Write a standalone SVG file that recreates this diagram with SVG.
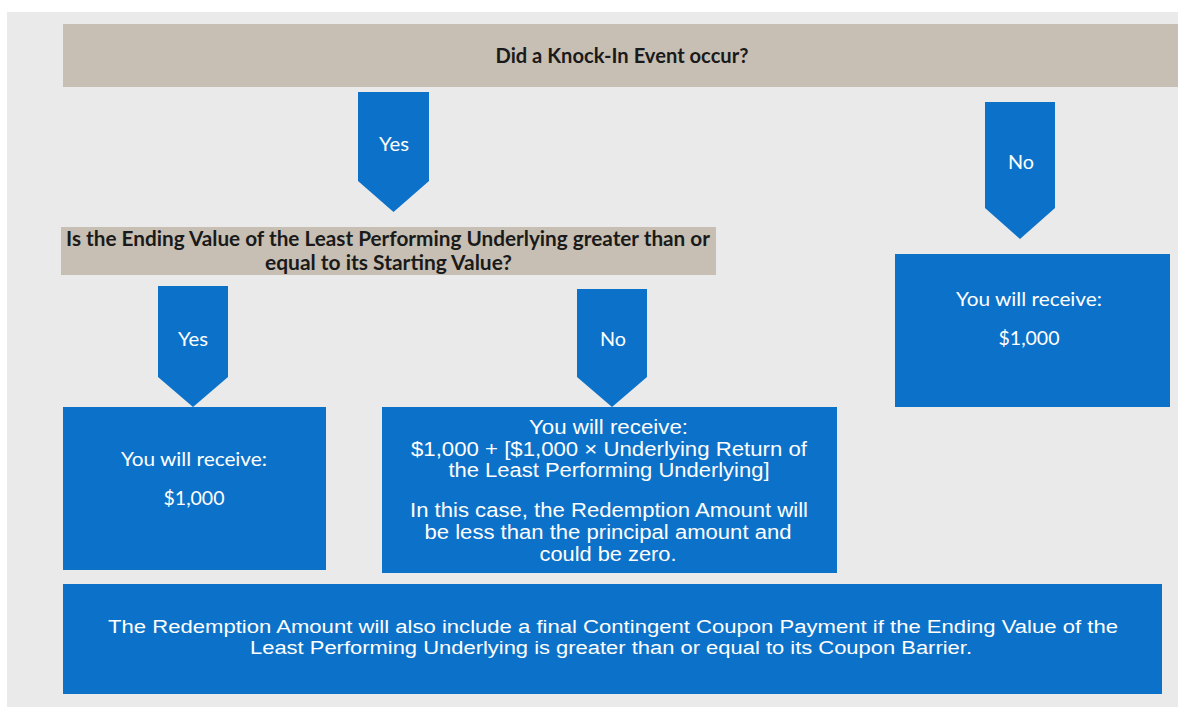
<svg xmlns="http://www.w3.org/2000/svg" width="1178" height="707" viewBox="0 0 1178 707">
<style>
.blue{fill:#0C72C9}
.tan{fill:#C7BFB4}
.hdr{font-family:Lato,"Open Sans","Liberation Sans",sans-serif;font-weight:bold;font-size:20px;fill:#1a1a1a;text-anchor:middle}
.cal{font-family:Lato,"Open Sans","Liberation Sans",sans-serif;font-size:20px;fill:#ffffff;text-anchor:middle}
.ar{font-family:"Liberation Sans",Arial,sans-serif;font-size:19.5px;fill:#ffffff;text-anchor:middle}
.arb{font-family:"Liberation Sans",Arial,sans-serif;font-size:18px;fill:#ffffff;text-anchor:middle}
</style>
<rect x="0" y="0" width="1178" height="707" fill="#ffffff"/>
<rect x="7" y="12" width="1171" height="695" fill="#EAEAEA"/>

<g id="q1">
<rect class="tan" x="63" y="24" width="1115" height="63"/>
<text class="hdr" x="622" y="63" textLength="253" lengthAdjust="spacingAndGlyphs">Did a Knock-In Event occur?</text>
</g>

<g id="connectors">
<g id="arrow-yes1">
<polygon class="blue" points="358,92 429,92 429,181 393.5,212 358,181"/>
<text class="cal" x="394" y="151" textLength="30" lengthAdjust="spacingAndGlyphs">Yes</text>
</g>
<g id="arrow-no1">
<polygon class="blue" points="985,102 1055,102 1055,208 1020,239 985,208"/>
<text class="cal" x="1021" y="169" textLength="26" lengthAdjust="spacingAndGlyphs">No</text>
</g>
<g id="arrow-yes2">
<polygon class="blue" points="158,286 228,286 228,377 193,407 158,377"/>
<text class="cal" x="193" y="346" textLength="30" lengthAdjust="spacingAndGlyphs">Yes</text>
</g>
<g id="arrow-no2">
<polygon class="blue" points="577,289 647,289 647,377 612,407 577,377"/>
<text class="cal" x="613" y="346" textLength="26" lengthAdjust="spacingAndGlyphs">No</text>
</g>
</g>

<g id="q2">
<rect class="tan" x="61" y="227" width="655" height="48"/>
<text class="hdr" x="388" y="246" textLength="644" lengthAdjust="spacingAndGlyphs">Is the Ending Value of the Least Performing Underlying greater than or</text>
<text class="hdr" x="388.5" y="270" textLength="247" lengthAdjust="spacingAndGlyphs">equal to its Starting Value?</text>
</g>

<g id="box-right">
<rect class="blue" x="895" y="254" width="275" height="153"/>
<text class="cal" x="1029" y="306" textLength="146" lengthAdjust="spacingAndGlyphs">You will receive:</text>
<text class="cal" x="1029" y="345" textLength="61" lengthAdjust="spacingAndGlyphs">$1,000</text>
</g>

<g id="box-left">
<rect class="blue" x="63" y="407" width="263" height="163"/>
<text class="cal" x="194" y="466" textLength="146" lengthAdjust="spacingAndGlyphs">You will receive:</text>
<text class="cal" x="194" y="505" textLength="61" lengthAdjust="spacingAndGlyphs">$1,000</text>
</g>

<g id="box-mid">
<rect class="blue" x="382" y="407" width="455" height="166"/>
<text class="ar" x="608.5" y="434" textLength="159" lengthAdjust="spacingAndGlyphs">You will receive:</text>
<text class="ar" x="609" y="455.5" textLength="396" lengthAdjust="spacingAndGlyphs">$1,000 + [$1,000 × Underlying Return of</text>
<text class="ar" x="609" y="477" textLength="321" lengthAdjust="spacingAndGlyphs">the Least Performing Underlying]</text>
<text class="ar" x="609" y="517" textLength="398" lengthAdjust="spacingAndGlyphs">In this case, the Redemption Amount will</text>
<text class="ar" x="608" y="539" textLength="367" lengthAdjust="spacingAndGlyphs">be less than the principal amount and</text>
<text class="ar" x="608" y="561" textLength="137" lengthAdjust="spacingAndGlyphs">could be zero.</text>
</g>

<g id="box-bottom">
<rect class="blue" x="63" y="584" width="1099" height="110"/>
<text class="arb" x="613" y="633" textLength="1010" lengthAdjust="spacingAndGlyphs">The Redemption Amount will also include a final Contingent Coupon Payment if the Ending Value of the</text>
<text class="arb" x="611" y="654" textLength="722" lengthAdjust="spacingAndGlyphs">Least Performing Underlying is greater than or equal to its Coupon Barrier.</text>
</g>
</svg>
